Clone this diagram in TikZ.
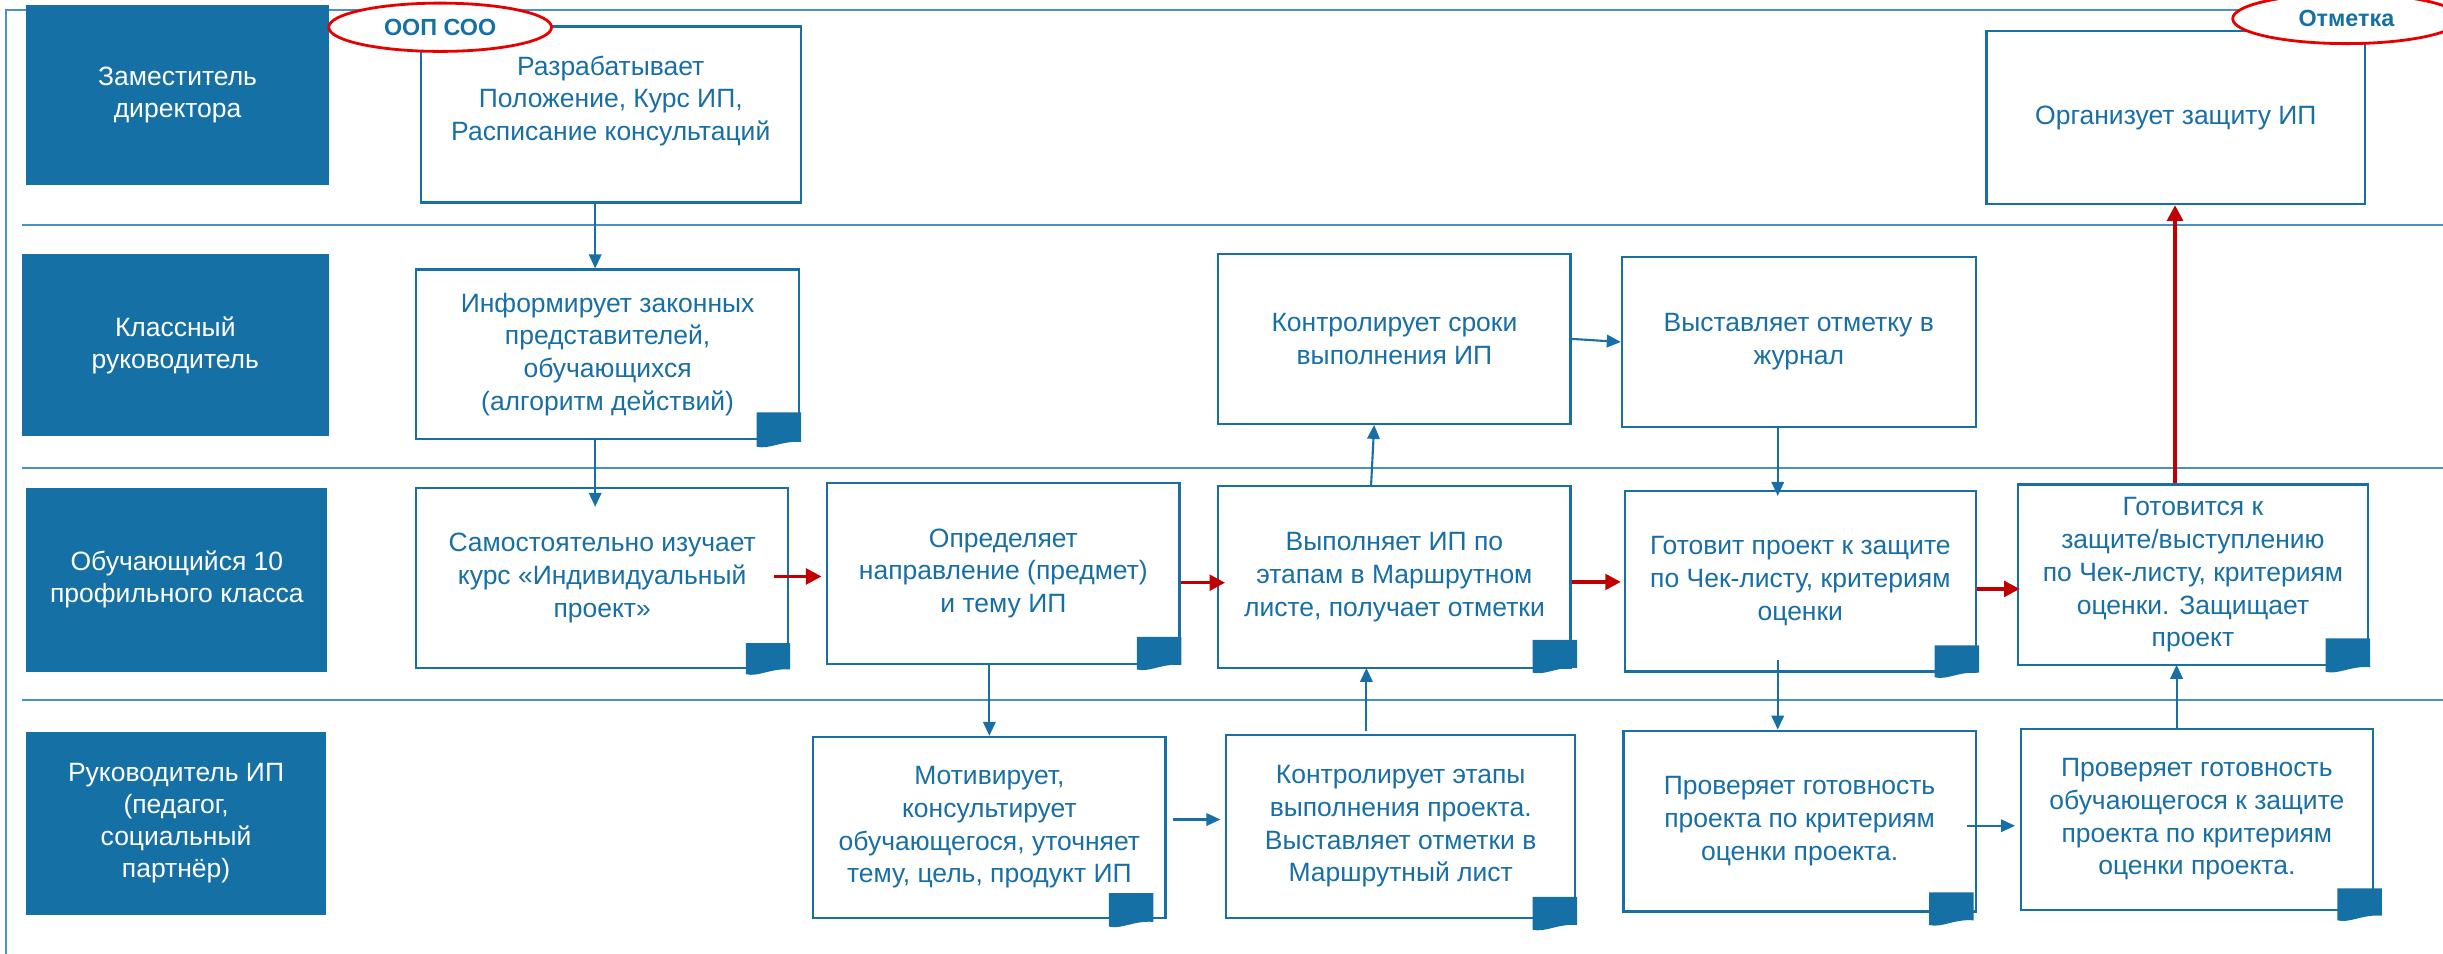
\documentclass[tikz,border=0pt]{standalone}
\usepackage{fontspec}
\setmainfont{Liberation Sans}
\usetikzlibrary{arrows.meta,calc,shapes.geometric}
\definecolor{hdr}{RGB}{21,112,165}
\definecolor{bline}{RGB}{24,111,166}
\definecolor{divc}{RGB}{74,144,196}
\definecolor{rarr}{RGB}{192,0,0}
\definecolor{rell}{RGB}{232,0,0}
% node, dx, height above bottom, depth below bottom
\newcommand\mydoc[4]{%
  \fill[hdr,shift={($(#1.south east)+(#2,0)$)}] (0.5,-#3) -- (-28,-#3) -- (-28,#4-1)
    .. controls (-20,#4+1) and (-12,#4-5) .. (0.5,#4-4) -- cycle;}
\begin{document}
\begin{tikzpicture}[x=1pt,y=-1pt,
  lane/.style={draw=divc,line width=1pt},
  hdrbox/.style={fill=hdr,draw=none,text=white,align=center,inner sep=0pt,
    font=\fontsize{17}{20.5}\selectfont},
  pbox/.style={draw=bline,fill=white,line width=1.4pt,text=bline,align=center,
    inner sep=0pt,font=\fontsize{17}{21}\selectfont},
  barrow/.style={draw=bline,line width=1.35pt,-{Triangle[length=9pt,width=8pt]}},
  rarrow/.style={draw=rarr,line width=2.3pt,-{Triangle[length=10pt,width=10pt]}},
  tag/.style={ellipse,draw=rell,fill=white,line width=1.8pt,text=hdr,inner sep=0pt,
    font=\bfseries\fontsize{15}{18}\selectfont}
]
\useasboundingbox (0,0) rectangle (1568,612);
\fill[white] (0,0) rectangle (1568,612);
% frame and lane dividers
\draw[lane] (4,612) -- (4,6.5) -- (1568,6.5);
\draw[lane] (14,144.5) -- (1568,144.5);
\draw[lane] (14,300.4) -- (1568,300.4);
\draw[lane] (14,449.3) -- (1568,449.3);
% lane headers
\node[hdrbox,minimum width=194pt,minimum height=116pt] (H1) at (114,61) {Заместитель\\директора};
\node[hdrbox,minimum width=197pt,minimum height=117pt] (H2) at (112.5,221.5) {Классный\\руководитель};
\node[hdrbox,minimum width=193pt,minimum height=118pt] (H3) at (113.5,372) {Обучающийся 10\\профильного класса};
\node[hdrbox,minimum width=192pt,minimum height=117pt] (H4) at (113,528.5) {Руководитель ИП\\(педагог,\\социальный\\партнёр)};
% process boxes
\node[pbox,minimum width=244pt,minimum height=113pt] (A1) at (392,73.5) {Разрабатывает\\Положение, Курс ИП,\\Расписание консультаций\\\mbox{}};
\node[pbox,minimum width=243pt,minimum height=111pt] (A2) at (1396.5,75.5) {Организует защиту ИП};
\node[pbox,minimum width=246pt,minimum height=109pt] (B1) at (390,227.5) {Информирует законных\\представителей,\\обучающихся\\(алгоритм действий)};
\node[pbox,minimum width=226pt,minimum height=109pt] (B2) at (895,217.5) {Контролирует сроки\\выполнения ИП};
\node[pbox,minimum width=227pt,minimum height=109pt] (B3) at (1154.5,219.5) {Выставляет отметку в\\журнал};
\node[pbox,minimum width=239pt,minimum height=116pt] (C1) at (386.5,371) {Самостоятельно изучает\\курс «Индивидуальный\\проект»};
\node[pbox,minimum width=226pt,minimum height=116pt] (C2) at (644,368) {Определяет\\направление (предмет)\\и тему ИП};
\node[pbox,minimum width=226pt,minimum height=117pt] (C3) at (895,370.5) {Выполняет ИП по\\этапам в Маршрутном\\листе, получает отметки};
\node[pbox,minimum width=225pt,minimum height=116pt] (C4) at (1155.5,373) {Готовит проект к защите\\по Чек-листу, критериям\\оценки};
\node[pbox,minimum width=225pt,minimum height=116pt] (C5) at (1407.5,369) {Готовится к\\защите/выступлению\\по Чек-листу, критериям\\оценки. Защищает\\проект};
\node[pbox,minimum width=226pt,minimum height=116pt] (D1) at (635,531) {Мотивирует,\\консультирует\\обучающегося, уточняет\\тему, цель, продукт ИП};
\node[pbox,minimum width=224pt,minimum height=117pt] (D2) at (899,530.5) {Контролирует этапы\\выполнения проекта.\\Выставляет отметки в\\Маршрутный лист};
\node[pbox,minimum width=226pt,minimum height=116pt] (D3) at (1155,527) {Проверяет готовность\\проекта по критериям\\оценки проекта.};
\node[pbox,minimum width=226pt,minimum height=116pt] (D4) at (1410,526) {Проверяет готовность\\обучающегося к защите\\проекта по критериям\\оценки проекта.};
% blue connectors
\draw[barrow] ($(A1.south)+(-10,0)$) -- ($(B1.north)+(-8,0)$);
\draw[barrow] ($(B1.south)+(-8,0)$) -- ($(C1.north)+(-4.5,13)$);
\draw[barrow] ($(C2.south)+(-9,0)$) -- (D1.north);
\draw[barrow] ($(D1.east)+(4,-5)$) -- ($(D2.west)+(-3,-4.5)$);
\draw[barrow] ($(D2.north)+(-22,-2)$) -- ($(C3.south)+(-18,-1)$);
\draw[barrow] ($(C3.north)+(-15,0)$) -- ($(B2.south)+(-13,0)$);
\draw[barrow] (B2.east) -- (B3.west);
\draw[barrow] ($(B3.south)+(-13.5,0)$) -- ($(C4.north)+(-14.5,4)$);
\draw[barrow] ($(C4.south)+(-14.5,-8)$) -- ($(D3.north)+(-14,0)$);
\draw[barrow] ($(D3.east)+(-6,3)$) -- ($(D4.west)+(-3,4)$);
\draw[barrow] ($(D4.north)+(-13,0)$) -- ($(C5.south)+(-10.5,-1)$);
% red connectors
\draw[rarrow] ($(C1.east)+(-10,-1)$) -- ($(C2.west)+(-3,2)$);
\draw[rarrow] ($(C2.east)+(0,6)$) -- ($(C3.west)+(5,3.5)$);
\draw[rarrow] ($(C3.east)+(0,3)$) -- ($(C4.west)+(-2,0.5)$);
\draw[rarrow] ($(C4.east)+(0,5)$) -- ($(C5.west)+(2,9)$);
\draw[rarrow] ($(C5.north)+(-11.5,0)$) -- ($(A2.south)+(-0.5,0)$);
% document marks
\mydoc{B1}{0}{18}{5}
\mydoc{C1}{0}{17}{4}
\mydoc{C2}{0}{18}{4}
\mydoc{C3}{3}{19}{3}
\mydoc{C4}{1}{17.5}{4}
\mydoc{C5}{0}{18}{4.5}
\mydoc{D1}{-9}{16.5}{6}
\mydoc{D2}{0}{14}{8}
\mydoc{D3}{-2.5}{13}{9}
\mydoc{D4}{4.5}{14.5}{7}
% red tags
\node[tag,minimum width=143pt,minimum height=31pt] (E1) at (282.5,17.5) {ООП СОО};
\node[tag,minimum width=146pt,minimum height=32pt] (E2) at (1506,12) {Отметка};
\end{tikzpicture}
\end{document}
